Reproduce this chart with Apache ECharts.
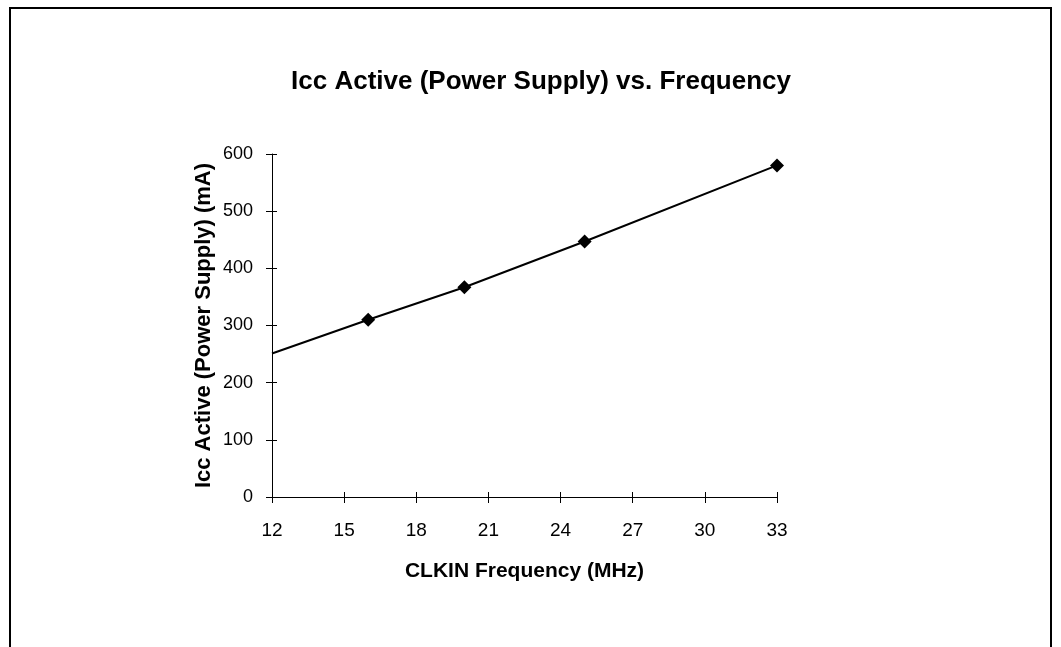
<!DOCTYPE html>
<html>
<head>
<meta charset="utf-8">
<script src="https://cdn.jsdelivr.net/npm/echarts@6/dist/echarts.min.js"></script>
<style>
html,body{margin:0;padding:0;background:#fff;}
#chart{width:1061px;height:647px;}
</style>
</head>
<body>
<div id="chart"></div>
<script>
var frequencies = [12, 16, 20, 25, 33];
var iccValues = [251, 310, 367, 447, 580];
var markerShown = [false, true, true, true, true];
var xTicks = [12, 15, 18, 21, 24, 27, 30, 33];
var yTicks = [0, 100, 200, 300, 400, 500, 600];

var FONT = 'Liberation Sans, Arial, sans-serif';
var chart = echarts.init(document.getElementById('chart'));
var seriesData = frequencies.map(function (f, i) {
  var d = { value: [f, iccValues[i]] };
  if (!markerShown[i]) d.symbol = 'none';
  return d;
});

var baseX = {
  type: 'value', min: xTicks[0], max: xTicks[xTicks.length - 1], interval: 3,
  position: 'bottom', splitLine: { show: false }
};
var baseY = {
  type: 'value', min: yTicks[0], max: yTicks[yTicks.length - 1], interval: 100,
  position: 'left', splitLine: { show: false }
};

chart.setOption({
  backgroundColor: '#fff',
  animation: false,
  title: {
    text: 'Icc Active (Power Supply) vs. Frequency',
    left: 536, top: 64, textAlign: 'center',
    textStyle: { fontFamily: FONT, fontSize: 26, fontWeight: 'bold', color: '#000' }
  },
  graphic: [{
    type: 'rect', silent: true,
    shape: { x: 10, y: 8, width: 1041, height: 660 },
    style: { fill: 'none', stroke: '#000', lineWidth: 2 }
  }],
  grid: { left: 272, right: 284, top: 154, bottom: 150 },
  xAxis: [
    Object.assign({}, baseX, {
      name: 'CLKIN Frequency (MHz)', nameLocation: 'middle', nameGap: 64,
      nameTextStyle: { fontFamily: FONT, fontSize: 21, fontWeight: 'bold', color: '#000' },
      axisLine: { show: true, lineStyle: { color: '#000', width: 1 } },
      axisTick: { show: true, inside: false, length: 6, lineStyle: { color: '#000' } },
      axisLabel: { fontFamily: FONT, fontSize: 19, color: '#000', margin: 24 }
    }),
    Object.assign({}, baseX, {
      axisLine: { show: false },
      axisTick: { show: true, inside: true, length: 5, lineStyle: { color: '#000' } },
      axisLabel: { show: false }
    })
  ],
  yAxis: [
    Object.assign({}, baseY, {
      name: 'Icc Active (Power Supply) (mA)', nameLocation: 'middle', nameGap: 57,
      nameTextStyle: { fontFamily: FONT, fontSize: 22, fontWeight: 'bold', color: '#000' },
      axisLine: { show: true, lineStyle: { color: '#000', width: 1 } },
      axisTick: { show: true, inside: false, length: 6, lineStyle: { color: '#000' } },
      axisLabel: { fontFamily: FONT, fontSize: 18, color: '#000', margin: 19 }
    }),
    Object.assign({}, baseY, {
      axisLine: { show: false },
      axisTick: { show: true, inside: true, length: 5, lineStyle: { color: '#000' } },
      axisLabel: { show: false }
    })
  ],
  series: [{
    type: 'line',
    xAxisIndex: 0, yAxisIndex: 0,
    data: seriesData,
    symbol: 'diamond', symbolSize: 14,
    itemStyle: { color: '#000' },
    lineStyle: { color: '#000', width: 2 }
  }]
});
</script>
</body>
</html>
